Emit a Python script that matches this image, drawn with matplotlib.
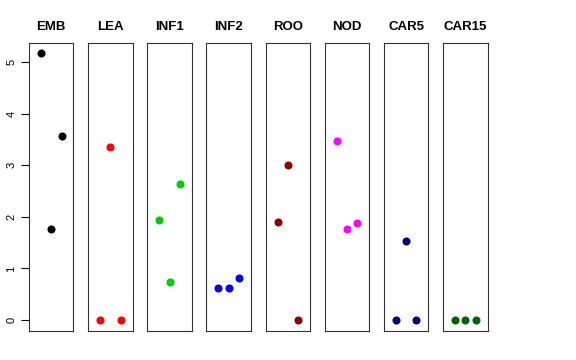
import matplotlib.pyplot as plt

plt.rcParams['font.family'] = ['Liberation Sans', 'DejaVu Sans']

# tissues and their three replicate values
tissues = ['EMB', 'LEA', 'INF1', 'INF2', 'ROO', 'NOD', 'CAR5', 'CAR15']
values = [
    [5.17, 1.76, 3.56],
    [0.00, 3.35, 0.00],
    [1.94, 0.74, 2.63],
    [0.62, 0.62, 0.81],
    [1.90, 3.00, 0.00],
    [3.47, 1.76, 1.88],
    [0.00, 1.53, 0.00],
    [0.00, 0.00, 0.00],
]
colors = ['black', 'red', '#00CD00', 'blue', '#8B0000', 'magenta', '#000080', '#006400']
reps = [1, 2, 3]

fig = plt.figure(figsize=(5.76, 3.6), dpi=100)

left, width, pitch = 0.0503, 0.0773, 0.1027
bottom, height = 0.0814, 0.80
ymax = max(max(v) for v in values)
pad = 0.04 * ymax

for i, (name, vals, col) in enumerate(zip(tissues, values, colors)):
    ax = fig.add_axes([left + i * pitch, bottom, width, height])
    ax.plot(reps, vals, 'o', color=col, ms=4.8, mec=col)
    ax.set_xlim(-0.16, 4.16)
    ax.set_ylim(-pad, ymax + pad)
    ax.set_xticks([])
    for s in ax.spines.values():
        s.set_linewidth(0.8)
        s.set_color('#333333')
    ax.set_title(name, fontsize=9.5, fontweight='bold', pad=9)
    if i == 0:
        ax.set_yticks([0, 1, 2, 3, 4, 5])
        ax.tick_params(axis='y', length=6, width=0.8, labelsize=8, pad=3,
                       labelrotation=90)
        for lab in ax.get_yticklabels():
            lab.set_va('center')
    else:
        ax.set_yticks([])

fig.savefig('out.png', dpi=100)
